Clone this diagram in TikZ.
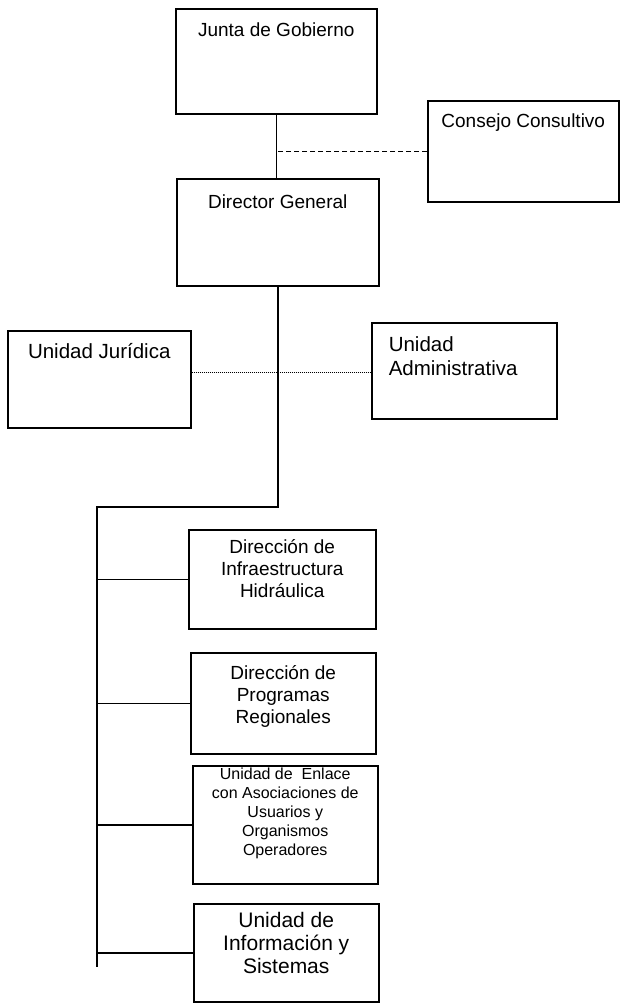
\documentclass[tikz,border=0pt]{standalone}
\usepackage{fontspec}
\setmainfont{Liberation Sans}
\usepackage{tikz}

\tikzset{
  caja/.style={draw, line width=1.5pt, inner sep=0pt, anchor=north west},
  linea/.style={line width=1.5pt},
  rayas/.style={line width=1.3pt, dash pattern=on 5pt off 3pt},
  puntos/.style={line width=0.9pt, dash pattern=on 1pt off 1pt}
}

\begin{document}
\begin{tikzpicture}[x=1pt, y=-1pt]
        \useasboundingbox (0,0) rectangle (620,1004);

        \node[caja] (junta) at (175,8) {\parbox[t][105pt][t]{201pt}{\centering\fontsize{19}{22}\selectfont\rule{0pt}{28pt}Junta de Gobierno}};
        \node[caja] (consejo) at (427,100) {\parbox[t][101pt][t]{191pt}{\centering\fontsize{19}{22}\selectfont\rule{0pt}{27pt}Consejo Consultivo}};
        \node[caja] (director) at (176,178) {\parbox[t][107pt][t]{202pt}{\centering\fontsize{19}{22}\selectfont\rule{0pt}{30pt}Director General}};

        \node[caja] (juridica) at (7,330) {\parbox[t][97pt][t]{183pt}{\centering\fontsize{20.5}{24}\selectfont\rule{0pt}{28pt}Unidad Jurídica}};
        \node[caja] (admin) at (371,322) {\parbox[t][96pt][t]{185pt}{\raggedright\leftskip=17pt\fontsize{20.5}{24}\selectfont\rule{0pt}{29pt}Unidad\\Administrativa}};

        \node[caja] (infra) at (188,529) {\parbox[t][99pt][t]{187pt}{\centering\fontsize{19}{22}\selectfont\rule{0pt}{24pt}Dirección de\\Infraestructura\\Hidráulica}};
        \node[caja] (programas) at (190,652) {\parbox[t][101pt][t]{185pt}{\centering\fontsize{19}{22}\selectfont\rule{0pt}{27pt}Dirección de\\Programas\\Regionales}};
        \node[caja] (enlace) at (192,765) {\parbox[t][118pt][t]{185pt}{\centering\fontsize{16}{19}\selectfont\rule{0pt}{14pt}Unidad de~ Enlace\\con Asociaciones de\\Usuarios y\\Organismos\\Operadores}};
        \node[caja] (info) at (193,903) {\parbox[t][98pt][t]{185pt}{\centering\fontsize{21}{23}\selectfont\rule{0pt}{24pt}Unidad de\\Información y\\Sistemas}};

        \coordinate (cruce) at (276,372);
        \coordinate (codo) at (97,507);
        \coordinate (fin) at (97,967);

        \draw[linea] (junta.south) -- (junta.south |- director.north);
        \draw[rayas] (consejo.west) -- (consejo.west -| junta.south);
        \draw[puntos] (cruce -| juridica.east) -- (cruce -| admin.west);

        \draw[linea] (director.south) |- (codo) -- (fin);
        \draw[linea] (infra.west) -- (infra.west -| codo);
        \draw[linea] (programas.west) -- (programas.west -| codo);
        \draw[linea] (enlace.west) -- (enlace.west -| codo);
        \draw[linea] (info.west) -- (info.west -| codo);
\end{tikzpicture}
\end{document}
